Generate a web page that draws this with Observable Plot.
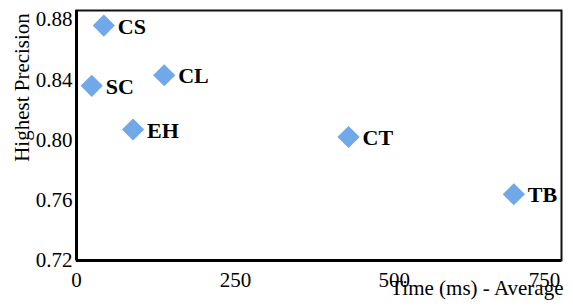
<!DOCTYPE html>
<html>
<head>
<meta charset="utf-8">
<script src="https://cdn.jsdelivr.net/npm/d3@7"></script>
<script src="https://cdn.jsdelivr.net/npm/@observablehq/plot@0.6"></script>
<style>
  html, body { margin: 0; padding: 0; background: #fff; }
  svg, svg text { font-family: "Liberation Serif", "Times New Roman", serif !important; }
</style>
</head>
<body>
<div id="chart"></div>
<script>
const methods = ["CS", "SC", "CL", "EH", "CT", "TB"];
const timeMs = [43, 24, 138, 89, 428, 688];
const precision = [0.876, 0.836, 0.843, 0.807, 0.802, 0.764];
const xTicks = [0, 250, 500, 750];
const yTicks = [0.72, 0.76, 0.80, 0.84, 0.88];
const xTitle = "Time (ms) - Average";
const yTitle = "Highest Precision";

const data = methods.map((m, i) => ({method: m, time: timeMs[i], precision: precision[i]}));
const serif = "Liberation Serif";

const chart = Plot.plot({
  width: 573,
  height: 306,
  marginLeft: 76,
  marginRight: 12,
  marginTop: 10,
  marginBottom: 46,
  style: {fontFamily: serif, fontSize: "21px", background: "#fff", color: "#000"},
  x: {domain: [0, 763], axis: null},
  y: {domain: [0.72, 0.886], axis: null},
  marks: [
    Plot.frame({stroke: "#111", strokeWidth: 2}),
    Plot.ruleX([0], {stroke: "#000", strokeWidth: 3}),
    Plot.ruleY([0.72], {stroke: "#000", strokeWidth: 3}),
    Plot.axisY(yTicks, {label: null, tickSize: 0, tickPadding: 4, tickFormat: d3.format(".2f"), fontSize: 21, fontFamily: serif, fill: "#000"}),
    Plot.axisX(xTicks.slice(0, 3), {label: null, tickSize: 0, tickPadding: 12, fontSize: 21, fontFamily: serif, fill: "#000"}),
    Plot.axisX(xTicks.slice(3), {label: null, tickSize: 0, tickPadding: 12, fontSize: 21, fontFamily: serif, fill: "#000", textAnchor: "end", dx: 7}),
    Plot.dot(data, {x: "time", y: "precision", symbol: "diamond2", r: 10, fill: "#70a8e8", stroke: "none"}),
    Plot.text(data, {x: "time", y: "precision", text: "method", textAnchor: "start", dx: 14, dy: 1, fontSize: 22, fontWeight: "bold", fontFamily: serif, fill: "#000"}),
    Plot.text([xTitle], {frameAnchor: "bottom-right", textAnchor: "end", dx: 2, dy: 34, fontSize: 21, fontFamily: serif, fill: "#000"}),
    Plot.text([yTitle], {frameAnchor: "left", rotate: -90, textAnchor: "middle", dx: -54, dy: -48, fontSize: 21, fontFamily: serif, fill: "#000"})
  ]
});
document.getElementById("chart").appendChild(chart);
</script>
</body>
</html>
